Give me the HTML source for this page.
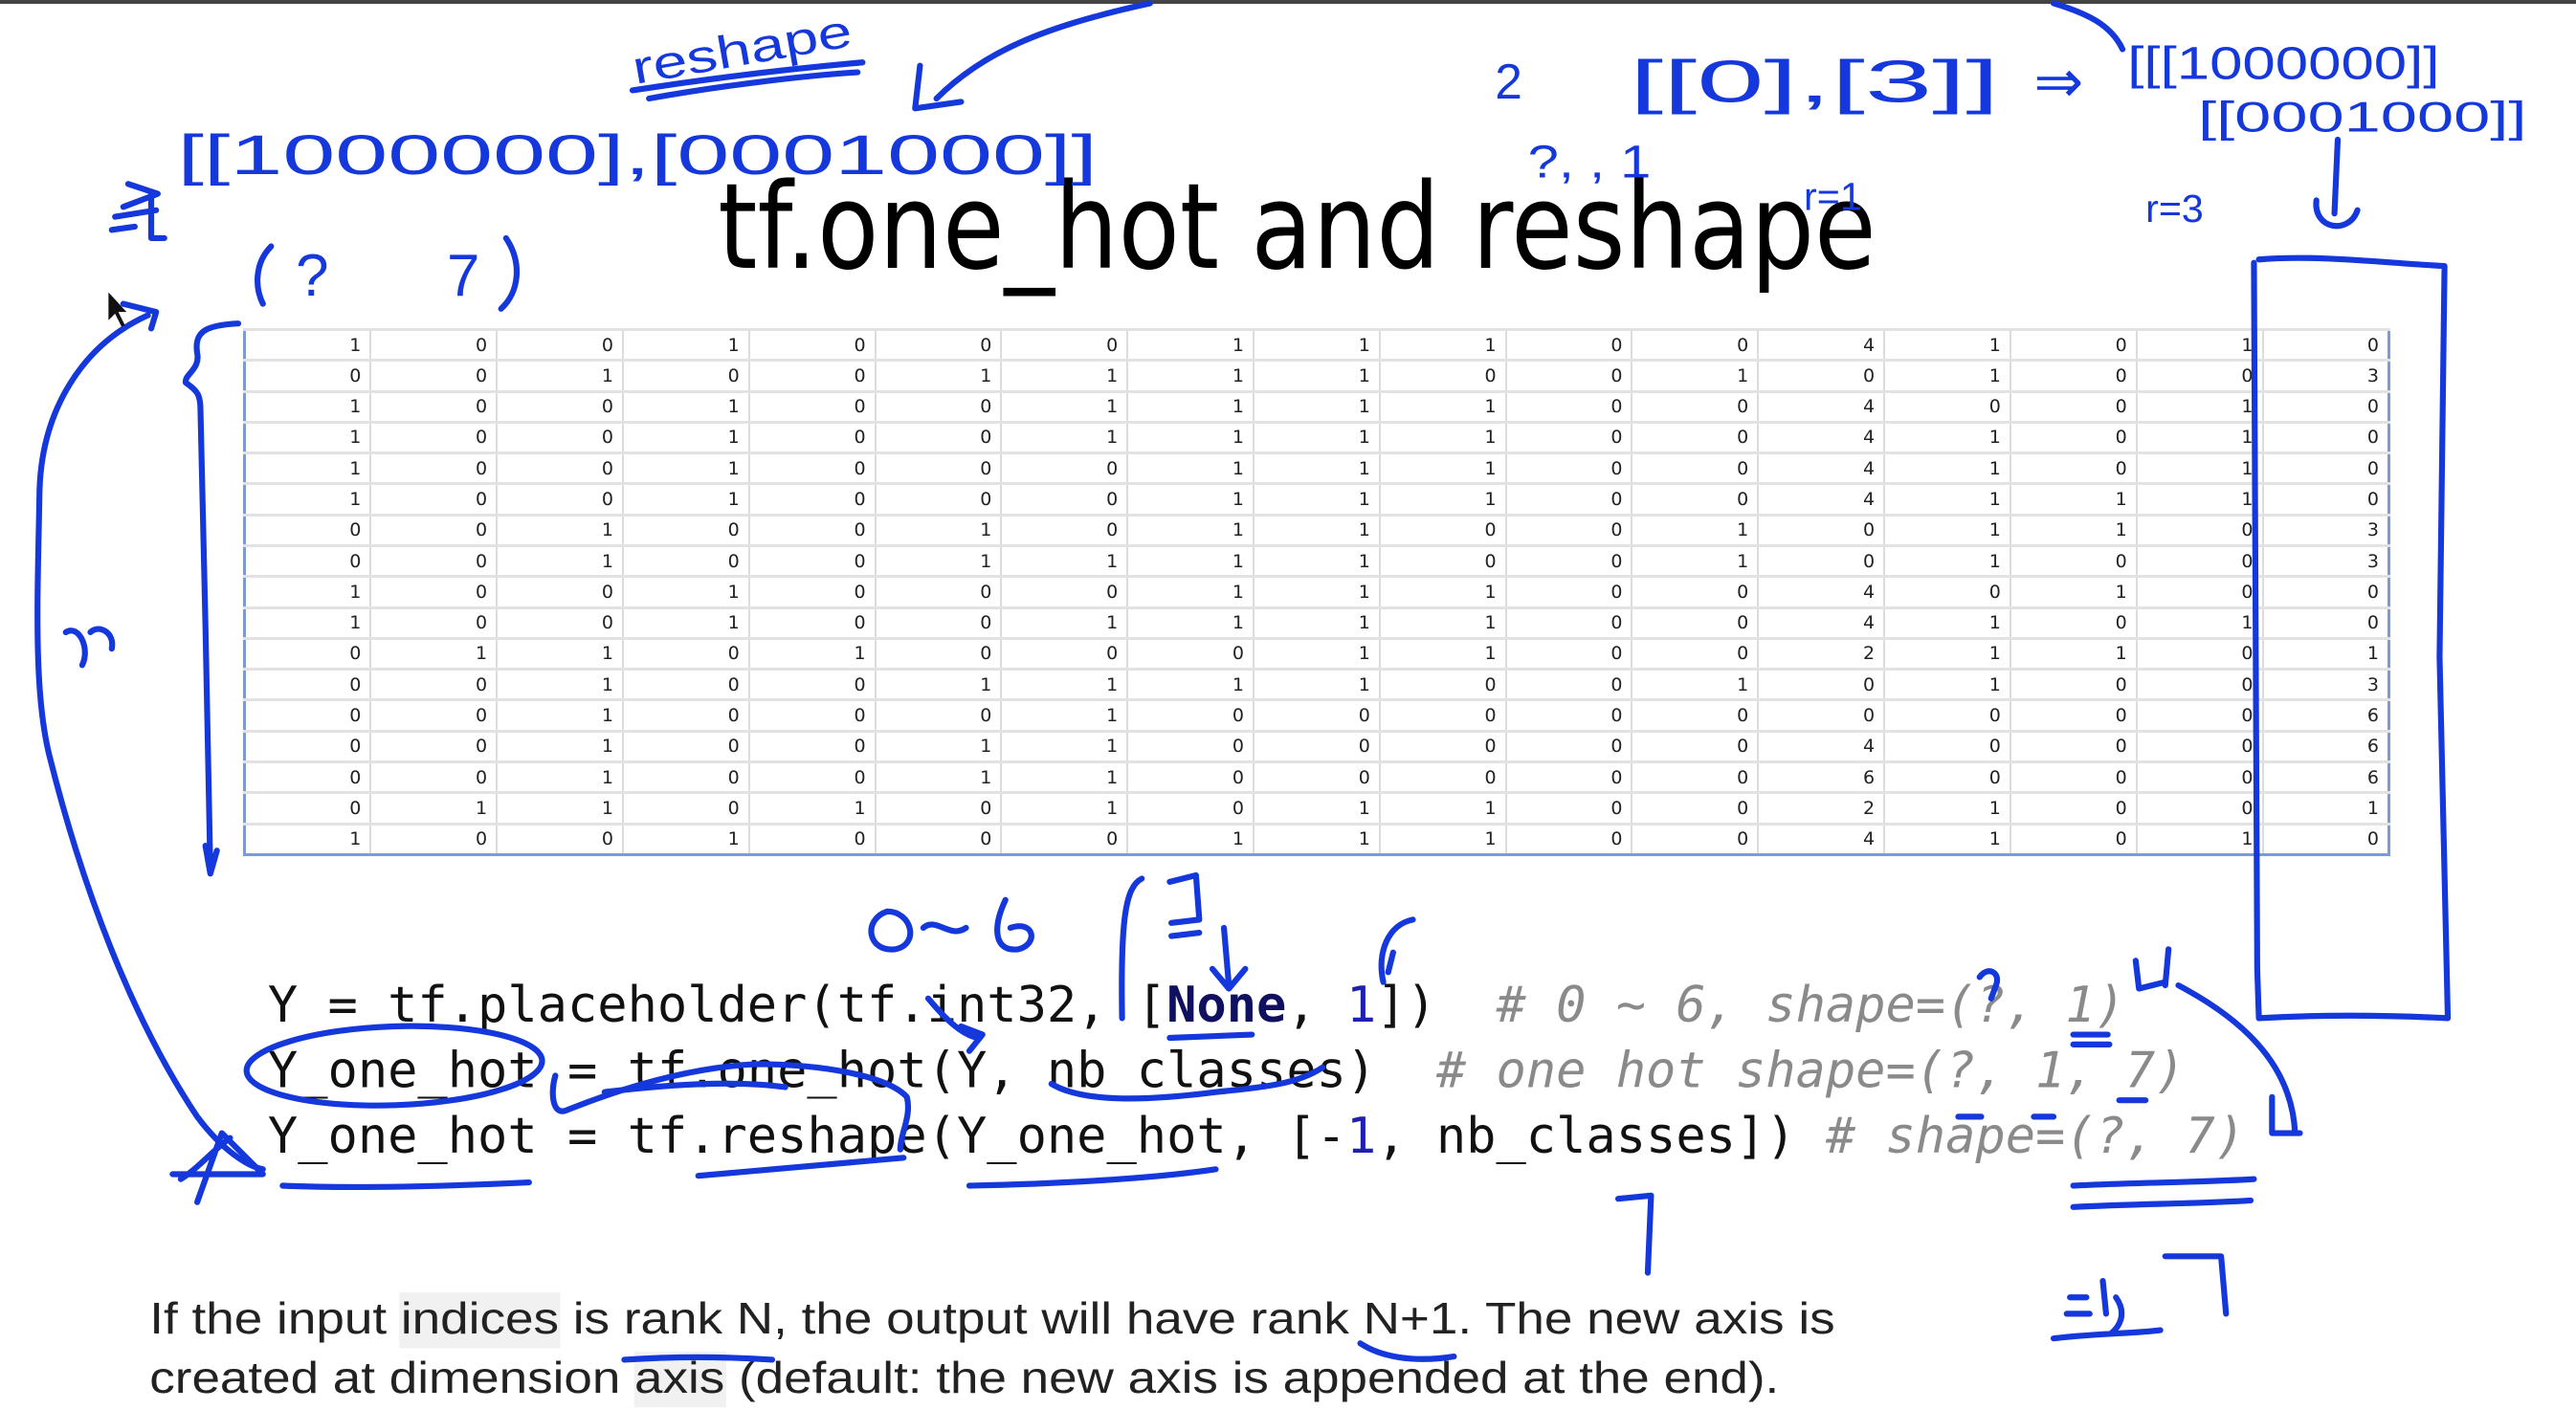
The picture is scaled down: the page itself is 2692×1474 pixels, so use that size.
<!DOCTYPE html>
<html><head><meta charset="utf-8">
<style>
html,body{margin:0;padding:0;background:#fff;}
#wrap{position:relative;width:2692px;height:1474px;overflow:hidden;background:#fff;}
#topbar{position:absolute;left:0;top:0;width:2692px;height:4px;background:#444;}
table{position:absolute;left:254px;top:343px;width:2244px;height:552px;border-collapse:collapse;border:3px solid #7d9ad6;table-layout:fixed;font-family:"DejaVu Sans","Liberation Sans",sans-serif;font-size:19px;color:#222;}
td{border-left:2px solid #dcdcdc;border-right:2px solid #dcdcdc;border-top:3px solid #e2e2e2;border-bottom:1px solid #cfcfcf;text-align:right;padding:0 9px 0 0;height:29px;line-height:26px;}
svg{position:absolute;left:0;top:0;}
</style></head><body><div id="wrap">
<div id="topbar"></div>
<table>
<tr><td>1</td><td>0</td><td>0</td><td>1</td><td>0</td><td>0</td><td>0</td><td>1</td><td>1</td><td>1</td><td>0</td><td>0</td><td>4</td><td>1</td><td>0</td><td>1</td><td>0</td></tr>
<tr><td>0</td><td>0</td><td>1</td><td>0</td><td>0</td><td>1</td><td>1</td><td>1</td><td>1</td><td>0</td><td>0</td><td>1</td><td>0</td><td>1</td><td>0</td><td>0</td><td>3</td></tr>
<tr><td>1</td><td>0</td><td>0</td><td>1</td><td>0</td><td>0</td><td>1</td><td>1</td><td>1</td><td>1</td><td>0</td><td>0</td><td>4</td><td>0</td><td>0</td><td>1</td><td>0</td></tr>
<tr><td>1</td><td>0</td><td>0</td><td>1</td><td>0</td><td>0</td><td>1</td><td>1</td><td>1</td><td>1</td><td>0</td><td>0</td><td>4</td><td>1</td><td>0</td><td>1</td><td>0</td></tr>
<tr><td>1</td><td>0</td><td>0</td><td>1</td><td>0</td><td>0</td><td>0</td><td>1</td><td>1</td><td>1</td><td>0</td><td>0</td><td>4</td><td>1</td><td>0</td><td>1</td><td>0</td></tr>
<tr><td>1</td><td>0</td><td>0</td><td>1</td><td>0</td><td>0</td><td>0</td><td>1</td><td>1</td><td>1</td><td>0</td><td>0</td><td>4</td><td>1</td><td>1</td><td>1</td><td>0</td></tr>
<tr><td>0</td><td>0</td><td>1</td><td>0</td><td>0</td><td>1</td><td>0</td><td>1</td><td>1</td><td>0</td><td>0</td><td>1</td><td>0</td><td>1</td><td>1</td><td>0</td><td>3</td></tr>
<tr><td>0</td><td>0</td><td>1</td><td>0</td><td>0</td><td>1</td><td>1</td><td>1</td><td>1</td><td>0</td><td>0</td><td>1</td><td>0</td><td>1</td><td>0</td><td>0</td><td>3</td></tr>
<tr><td>1</td><td>0</td><td>0</td><td>1</td><td>0</td><td>0</td><td>0</td><td>1</td><td>1</td><td>1</td><td>0</td><td>0</td><td>4</td><td>0</td><td>1</td><td>0</td><td>0</td></tr>
<tr><td>1</td><td>0</td><td>0</td><td>1</td><td>0</td><td>0</td><td>1</td><td>1</td><td>1</td><td>1</td><td>0</td><td>0</td><td>4</td><td>1</td><td>0</td><td>1</td><td>0</td></tr>
<tr><td>0</td><td>1</td><td>1</td><td>0</td><td>1</td><td>0</td><td>0</td><td>0</td><td>1</td><td>1</td><td>0</td><td>0</td><td>2</td><td>1</td><td>1</td><td>0</td><td>1</td></tr>
<tr><td>0</td><td>0</td><td>1</td><td>0</td><td>0</td><td>1</td><td>1</td><td>1</td><td>1</td><td>0</td><td>0</td><td>1</td><td>0</td><td>1</td><td>0</td><td>0</td><td>3</td></tr>
<tr><td>0</td><td>0</td><td>1</td><td>0</td><td>0</td><td>0</td><td>1</td><td>0</td><td>0</td><td>0</td><td>0</td><td>0</td><td>0</td><td>0</td><td>0</td><td>0</td><td>6</td></tr>
<tr><td>0</td><td>0</td><td>1</td><td>0</td><td>0</td><td>1</td><td>1</td><td>0</td><td>0</td><td>0</td><td>0</td><td>0</td><td>4</td><td>0</td><td>0</td><td>0</td><td>6</td></tr>
<tr><td>0</td><td>0</td><td>1</td><td>0</td><td>0</td><td>1</td><td>1</td><td>0</td><td>0</td><td>0</td><td>0</td><td>0</td><td>6</td><td>0</td><td>0</td><td>0</td><td>6</td></tr>
<tr><td>0</td><td>1</td><td>1</td><td>0</td><td>1</td><td>0</td><td>1</td><td>0</td><td>1</td><td>1</td><td>0</td><td>0</td><td>2</td><td>1</td><td>0</td><td>0</td><td>1</td></tr>
<tr><td>1</td><td>0</td><td>0</td><td>1</td><td>0</td><td>0</td><td>0</td><td>1</td><td>1</td><td>1</td><td>0</td><td>0</td><td>4</td><td>1</td><td>0</td><td>1</td><td>0</td></tr>
</table>
<svg width="2692" height="1474" viewBox="0 0 1568 858.6">
<text x="437" y="163" font-family="'DejaVu Sans','Liberation Sans',sans-serif" font-size="72" fill="#000" textLength="705" lengthAdjust="spacingAndGlyphs">tf.one_hot and reshape</text>
<rect x="243" y="787" width="98" height="34" fill="#f1f1f1"/>
<rect x="386" y="823" width="56" height="34" fill="#f1f1f1"/>
<g font-family="'DejaVu Sans Mono','Liberation Mono',monospace" font-size="30.3">
<text x="163" y="622" fill="#111">Y&#160;=&#160;tf.placeholder(tf.int32,&#160;[<tspan fill="#101060" font-weight="bold">None</tspan>,&#160;<tspan fill="#2020b0">1</tspan>])&#160;&#160;<tspan fill="#8a8a8a" font-style="italic">#&#160;0&#160;~&#160;6,&#160;shape=(?,&#160;1)</tspan></text>
<text x="163" y="662" fill="#111">Y_one_hot&#160;=&#160;tf.one_hot(Y,&#160;nb_classes)&#160;&#160;<tspan fill="#8a8a8a" font-style="italic">#&#160;one&#160;hot&#160;shape=(?,&#160;1,&#160;7)</tspan></text>
<text x="163" y="702" fill="#111">Y_one_hot&#160;=&#160;tf.reshape(Y_one_hot,&#160;[-<tspan fill="#2020b0">1</tspan>,&#160;nb_classes])&#160;<tspan fill="#8a8a8a" font-style="italic">#&#160;shape=(?,&#160;7)</tspan></text>
</g>
<g font-family="'Liberation Sans',Arial,sans-serif" font-size="27" fill="#222">
<text x="91" y="812" textLength="1026" lengthAdjust="spacingAndGlyphs">If the input indices is rank N, the output will have rank N+1. The new axis is</text>
<text x="91" y="848" textLength="992" lengthAdjust="spacingAndGlyphs">created at dimension axis (default: the new axis is appended at the end).</text>
</g>
<g fill="none" stroke="#1538dc" stroke-width="3.6" stroke-linecap="round" stroke-linejoin="round">
<path d="M385 55 C430 48 480 42 525 38 M395 60 C440 52 490 46 522 44"/>
<path d="M700 2 C640 15 600 30 570 60 M560 40 L557 66 L585 62"/>
<path d="M1250 2 C1270 8 1285 15 1292 30"/>
<path d="M78 112 L96 118 L75 126 M70 132 L95 128 M92 118 L92 145 L100 145 M68 140 L82 138"/>
<path d="M165 150 C155 160 155 175 160 185 M308 145 C318 160 316 178 305 188"/>
<path d="M145 197 C125 198 118 202 120 215 C122 225 112 228 113 233 C120 238 122 240 122 250 L125 380 L128 530 M125 515 L128 532 L132 518"/>
<path d="M90 192 C50 210 25 250 24 300 C23 360 20 420 30 460 C50 540 80 620 120 680 C135 700 150 710 160 712"/>
<path d="M75 185 L95 190 L92 200 M140 693 C130 700 120 712 110 718 M105 715 L160 715 L135 690 L120 732"/>
<path d="M40 385 C48 380 55 395 50 405 M55 385 C60 380 70 385 68 395"/>
<ellipse cx="240" cy="649" rx="90" ry="24" transform="rotate(-2 240 649)"/>
<path d="M172 722 C220 724 280 722 322 720 M425 716 C470 712 520 708 550 705 M590 722 C640 721 700 718 740 712"/>
<path d="M338 655 C335 665 336 680 345 676 C380 662 420 650 460 648 C500 648 540 655 552 668 C555 680 548 690 548 700"/>
<path d="M368 665 C410 660 450 658 478 662"/>
<path d="M640 660 C660 672 700 670 740 665 C770 662 790 660 805 650"/>
<path d="M540 555 C525 560 528 580 545 578 C560 575 555 555 540 555 M562 565 C570 558 578 572 588 565 M612 548 C604 565 605 580 620 578 C632 575 630 560 615 565"/>
<path d="M695 535 C685 540 682 560 683 620 M712 537 L728 533 L730 560 M713 562 L730 560 M713 570 L730 568 M745 565 L748 600 M738 590 L748 602 L758 590 M712 632 L762 630"/>
<path d="M860 560 C845 563 838 580 842 598 M848 580 L845 592"/>
<path d="M565 608 C575 620 585 630 595 632 M585 625 L598 630 L590 640"/>
<path d="M1205 595 C1210 588 1218 592 1215 600 L1212 608 M1262 630 L1283 630 M1262 636 L1284 636 M1192 680 L1206 680 M1238 680 L1250 680 M1290 670 L1306 670"/>
<path d="M1262 722 C1300 720 1340 720 1372 718 M1262 735 C1300 733 1340 733 1370 731"/>
<path d="M1300 585 L1302 602 L1318 598 M1320 578 L1318 600"/>
<path d="M1326 600 C1360 618 1395 645 1397 690 M1383 668 L1383 690 L1400 690"/>
<path d="M1375 158 C1410 155 1450 160 1488 162 L1485 400 L1490 620 C1450 618 1410 618 1375 620 L1374 590 L1372 160"/>
<path d="M1423 85 L1421 130 M1410 122 C1408 140 1430 143 1435 128"/>
<path d="M985 730 L1005 728 L1003 775"/>
<path d="M1260 790 L1270 790 M1258 800 L1272 800 M1280 780 L1282 800 M1288 790 C1295 800 1290 808 1285 812 M1318 765 L1352 765 L1355 800 M1250 815 C1275 812 1300 812 1315 810"/>
<path d="M380 828 C410 826 440 826 470 828 M828 818 C840 826 860 830 885 826"/>
</g>
<g fill="#1538dc" font-family="'Liberation Sans Narrow','Liberation Sans',sans-serif">
<text x="385" y="40" font-size="28" textLength="135" lengthAdjust="spacingAndGlyphs" transform="rotate(-10 450 35)">reshape</text>
<text x="108" y="106" font-size="34" textLength="560" lengthAdjust="spacingAndGlyphs">[[1000000],[0001000]]</text>
<text x="180" y="180" font-size="36">?</text>
<text x="272" y="180" font-size="36">7</text>
<text x="910" y="60" font-size="30">2</text>
<text x="992" y="62" font-size="36" textLength="225" lengthAdjust="spacingAndGlyphs">[[0],[3]]</text>
<text x="1238" y="62" font-size="36">⇒</text>
<text x="1295" y="48" font-size="28" textLength="190" lengthAdjust="spacingAndGlyphs">[[[1000000]]</text>
<text x="1338" y="80" font-size="26" textLength="200" lengthAdjust="spacingAndGlyphs">[[0001000]]</text>
<text x="930" y="108" font-size="28" textLength="75" lengthAdjust="spacingAndGlyphs">?, , 1</text>
<text x="1098" y="128" font-size="24">r=1</text>
<text x="1306" y="135" font-size="24">r=3</text>
</g>
<path d="M66 178 L66 195 L70 191 L74 199 L76 198 L72 190 L77 190 Z" fill="#111"/>
</svg>
</div></body></html>
